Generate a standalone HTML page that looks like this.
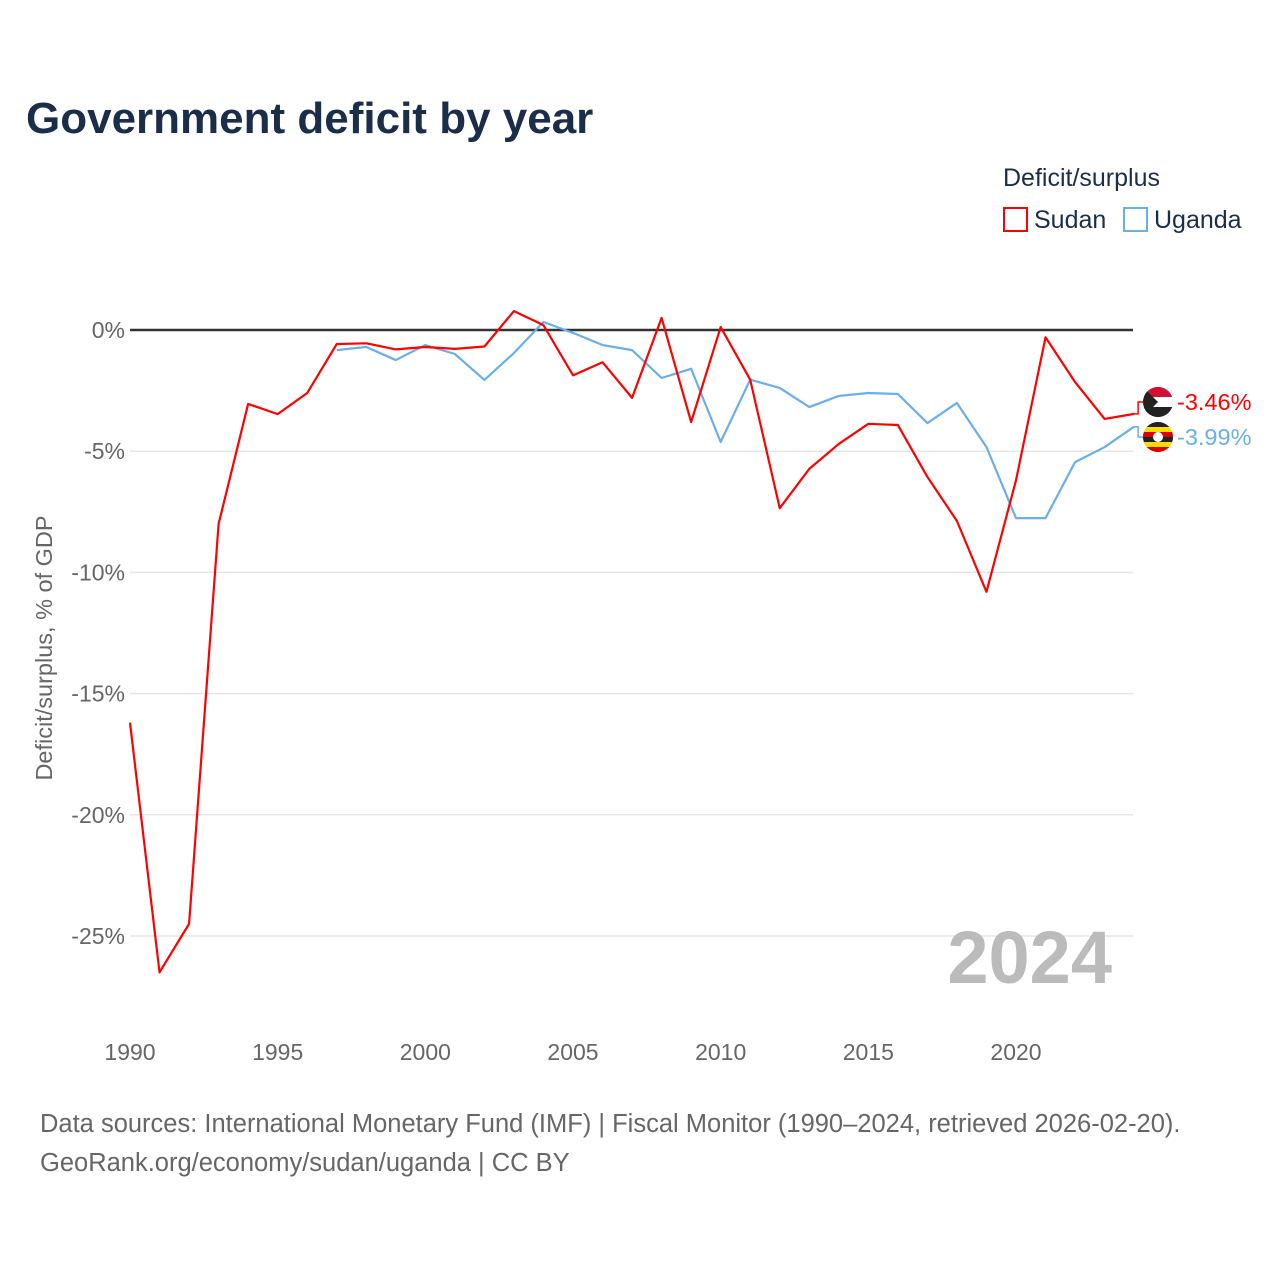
<!DOCTYPE html>
<html><head><meta charset="utf-8"><style>
body{margin:0;background:#fff;width:1280px;height:1280px;overflow:hidden;font-family:"Liberation Sans",sans-serif}
</style></head><body>
<svg width="1280" height="1280" viewBox="0 0 1280 1280" id="chart" font-family="Liberation Sans, sans-serif">
<defs>
<clipPath id="c1"><circle cx="1158" cy="402" r="15"/></clipPath>
<clipPath id="c2"><circle cx="1158" cy="437" r="15"/></clipPath>
</defs>
<text x="26" y="133" font-size="44" font-weight="bold" fill="#1a2e4a">Government deficit by year</text>
<text x="1003" y="186" font-size="25" fill="#1a2e4a">Deficit/surplus</text>
<g><rect x="1004" y="208" width="23" height="23" fill="none" stroke="#ff0000" stroke-width="2"/><text x="1034" y="228" font-size="25" fill="#1a2e4a">Sudan</text></g>
<g><rect x="1124" y="208" width="23" height="23" fill="none" stroke="#6aaeea" stroke-width="2"/><text x="1154" y="228" font-size="25" fill="#1a2e4a">Uganda</text></g>
<text transform="translate(52,648) rotate(-90)" text-anchor="middle" font-size="23.5" fill="#666">Deficit/surplus, % of GDP</text>
<g id="grid"></g><g id="yticks"></g><g id="xticks"></g>
<text x="1112" y="983" text-anchor="end" font-size="74" font-weight="bold" fill="#bbb">2024</text>
<g id="series"></g>
<text x="40" y="1132" font-size="25.5" fill="#666">Data sources: International Monetary Fund (IMF) | Fiscal Monitor (1990–2024, retrieved 2026-02-20).</text>
<text x="40" y="1171" font-size="25.5" fill="#666">GeoRank.org/economy/sudan/uganda | CC BY</text>
</svg>
<script>
const years=[];for(let y=1990;y<=2024;y++)years.push(y);
const sudan=[-16.2,-26.5,-24.5,-8.0,-3.05,-3.47,-2.6,-0.58,-0.55,-0.8,-0.7,-0.78,-0.68,0.78,0.2,-1.87,-1.33,-2.8,0.5,-3.8,0.12,-2.05,-7.35,-5.73,-4.7,-3.87,-3.92,-6.06,-7.88,-10.8,-6.2,-0.3,-2.15,-3.67,-3.46];
const ugandaYears=[];for(let y=1997;y<=2024;y++)ugandaYears.push(y);
const uganda=[-0.83,-0.7,-1.24,-0.62,-0.99,-2.06,-0.95,0.33,-0.12,-0.62,-0.83,-1.98,-1.6,-4.62,-2.05,-2.39,-3.18,-2.72,-2.6,-2.64,-3.84,-3.01,-4.83,-7.76,-7.76,-5.45,-4.83,-3.99];
const yTicks=[0,-5,-10,-15,-20,-25];
const xTicks=[1990,1995,2000,2005,2010,2015,2020];
const NS="http://www.w3.org/2000/svg";
const X=y=>130+(y-1990)*(886/30);
const Y=v=>330-v*24.24;
function mk(t,a,p){const e=document.createElementNS(NS,t);for(const k in a)e.setAttribute(k,a[k]);p.appendChild(e);return e;}
const grid=document.getElementById('grid'),yt=document.getElementById('yticks'),xt=document.getElementById('xticks'),sg=document.getElementById('series');
yTicks.forEach(v=>{
 const l=mk('line',{x1:130,x2:1133,y1:Y(v),y2:Y(v),stroke:v===0?'#333':'#e6e6e6','stroke-width':v===0?2.5:1.5},grid);
 
 
 const t=mk('text',{x:125,y:Y(v)+8,'text-anchor':'end','font-size':23,fill:'#666'},yt);t.textContent=v+'%';
 
 
});
xTicks.forEach(v=>{
 const t=mk('text',{x:X(v),y:1060,'text-anchor':'middle','font-size':23,fill:'#666'},xt);t.textContent=v;
 
 
});
function line(xs,vs,c,name){
 const p=mk('polyline',{points:xs.map((y,i)=>X(y)+','+Y(vs[i])).join(' '),fill:'none',stroke:c,'stroke-width':2.2,'stroke-linejoin':'round'},sg);
 
 
}
line(ugandaYears,uganda,'#6aaeea','uganda-line');
line(years,sudan,'#ff0000','sudan-line');
function endLabel(v,ly,c,name,flag,clip){
 const x0=X(2024),y0=Y(v);
 const p=mk('polyline',{points:`${x0},${y0} ${x0+4},${y0} ${x0+4},${ly} ${x0+10},${ly}`,fill:'none',stroke:c,'stroke-width':1.5},sg);
 
 
 const g=mk('g',{'clip-path':'url(#'+clip+')'},sg);
 
 
 mk('circle',{cx:1158,cy:ly,r:15,fill:'#222'},g);
 if(flag==='sd'){mk('rect',{x:1143,y:ly-15,width:30,height:10,fill:'#d21034'},g);mk('rect',{x:1143,y:ly-5,width:30,height:10,fill:'#fff'},g);mk('rect',{x:1143,y:ly+5,width:30,height:10,fill:'#222'},g);mk('path',{d:`M1143 ${ly-15}L1158 ${ly}L1143 ${ly+15}Z`,fill:'#222'},g);}
 else{mk('rect',{x:1143,y:ly-15,width:30,height:5,fill:'#222'},g);mk('rect',{x:1143,y:ly-10,width:30,height:5,fill:'#fcdc04'},g);mk('rect',{x:1143,y:ly-5,width:30,height:5,fill:'#d90000'},g);mk('rect',{x:1143,y:ly,width:30,height:5,fill:'#222'},g);mk('rect',{x:1143,y:ly+5,width:30,height:5,fill:'#fcdc04'},g);mk('rect',{x:1143,y:ly+10,width:30,height:5,fill:'#d90000'},g);mk('circle',{cx:1158,cy:ly,r:5,fill:'#fff'},g);}
 const t=mk('text',{x:1177,y:ly+8,'font-size':23.5,fill:c},sg);t.textContent=v.toFixed(2)+'%';
 
 
}
endLabel(sudan[sudan.length-1],402,'#ff0000','sudan','sd','c1');
endLabel(uganda[uganda.length-1],437,'#6aaeea','uganda','ug','c2');
</script>
</body></html>
